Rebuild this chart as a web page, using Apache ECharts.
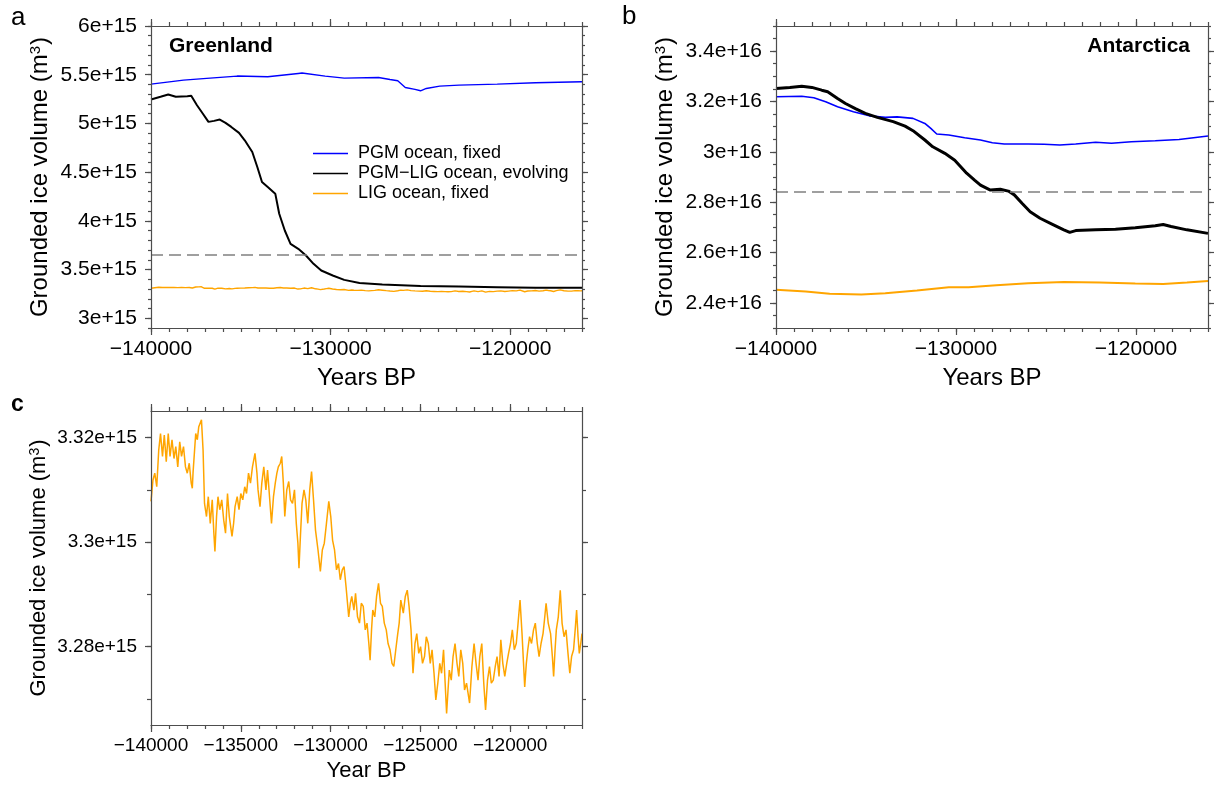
<!DOCTYPE html>
<html>
<head>
<meta charset="utf-8">
<script src="https://cdn.jsdelivr.net/npm/echarts@6/dist/echarts.min.js"></script>
<style>
html,body{margin:0;padding:0;background:#fff;}
#chart{width:1221px;height:790px;}
</style>
</head>
<body>
<div id="chart"></div>
<script>
// ---------------- DATA ----------------
const SERIES_NAMES = ['PGM ocean, fixed', 'PGM\u2212LIG ocean, evolving', 'LIG ocean, fixed'];

// Panel a (Greenland), values in units of 1e15 m^3
const aPGMYears = [-140000,-138190,-136900,-135200,-133500,-131800,-131590,-130300,-129240,-127330,-126690,-126260,-125840,-125300,-124990,-124670,-123920,-122850,-120720,-118590,-116000];
const aPGMVol   = [5.403,5.444,5.462,5.486,5.479,5.513,5.517,5.486,5.465,5.472,5.451,5.438,5.369,5.349,5.335,5.359,5.383,5.393,5.403,5.417,5.427];
const aEvoYears = [-140000,-139470,-139040,-138620,-137980,-137760,-137440,-137120,-136800,-136490,-136170,-135850,-135530,-135100,-134780,-134360,-134080,-133820,-133500,-133080,-132860,-132550,-132230,-131800,-131370,-130950,-130520,-129880,-129240,-128390,-127120,-124990,-122850,-120720,-118590,-116000];
const aEvoVol   = [5.246,5.273,5.297,5.273,5.280,5.283,5.187,5.102,5.016,5.026,5.040,5.006,4.964,4.903,4.827,4.707,4.553,4.399,4.347,4.279,4.073,3.901,3.764,3.713,3.644,3.559,3.490,3.439,3.394,3.363,3.346,3.332,3.325,3.319,3.312,3.312];
const aThreshold = 3.65;

// Panel b (Antarctica), values in units of 1e16 m^3
const bPGMYears = [-140000,-138570,-137900,-137240,-136580,-135700,-134820,-133930,-133270,-132390,-131730,-131400,-131070,-130400,-129520,-128640,-127980,-127320,-125990,-125110,-124230,-123350,-122240,-121360,-120260,-118930,-117610,-116000];
const bPGMVol   = [3.219,3.221,3.215,3.199,3.179,3.159,3.143,3.137,3.139,3.133,3.113,3.093,3.071,3.067,3.056,3.047,3.036,3.031,3.031,3.030,3.027,3.031,3.038,3.034,3.040,3.044,3.049,3.063];
const bEvoYears = [-140000,-139230,-138570,-138010,-137460,-137130,-136580,-136140,-135590,-135040,-134370,-133490,-132830,-132390,-131730,-131290,-130620,-130070,-129740,-129410,-128970,-128640,-128090,-127540,-127090,-126760,-126320,-125880,-125330,-124670,-124010,-123680,-123350,-122240,-121140,-120040,-118930,-118490,-118050,-117170,-116000];
const bEvoVol   = [3.252,3.256,3.261,3.256,3.245,3.239,3.212,3.192,3.172,3.153,3.137,3.120,3.102,3.084,3.047,3.020,2.994,2.967,2.941,2.915,2.888,2.868,2.848,2.851,2.844,2.829,2.795,2.762,2.736,2.713,2.690,2.680,2.687,2.690,2.692,2.698,2.706,2.711,2.703,2.690,2.676];
const bLIGYears = [-140000,-138350,-137020,-135260,-133930,-132170,-130400,-129300,-127760,-125990,-124010,-122020,-120040,-118490,-117170,-116000];
const bLIGVol   = [2.452,2.445,2.436,2.433,2.438,2.449,2.462,2.462,2.470,2.478,2.483,2.481,2.477,2.475,2.481,2.487];
const bThreshold = 2.84;

// Panel c (and panel a orange): LIG ocean, fixed, Greenland, units of 1e15 m^3
const cYears = [-140000,-139890,-139790,-139680,-139570,-139470,-139360,-139260,-139150,-139040,-138940,-138830,-138720,-138620,-138510,-138400,-138300,-138190,-138080,-137980,-137870,-137760,-137700,-137660,-137510,-137420,-137340,-137190,-137100,-137020,-136910,-136810,-136700,-136590,-136500,-136440,-136350,-136270,-136170,-136060,-135950,-135850,-135740,-135640,-135490,-135400,-135320,-135200,-135100,-135000,-134890,-134780,-134680,-134570,-134460,-134350,-134210,-134100,-134040,-133930,-133830,-133720,-133600,-133510,-133400,-133290,-133180,-133080,-132990,-132910,-132800,-132720,-132630,-132550,-132440,-132330,-132230,-132120,-132010,-131910,-131820,-131760,-131680,-131590,-131480,-131380,-131270,-131160,-131060,-130950,-130840,-130700,-130570,-130460,-130350,-130230,-130100,-129990,-129890,-129780,-129670,-129560,-129460,-129350,-129250,-129140,-128990,-128900,-128820,-128700,-128610,-128500,-128390,-128290,-128180,-128070,-127970,-127870,-127800,-127720,-127650,-127540,-127440,-127330,-127220,-127120,-127010,-126900,-126800,-126690,-126580,-126480,-126370,-126260,-126180,-126090,-125950,-125840,-125730,-125630,-125520,-125410,-125300,-125200,-125090,-124990,-124880,-124770,-124670,-124560,-124450,-124350,-124240,-124140,-124030,-123920,-123820,-123710,-123620,-123540,-123460,-123390,-123280,-123180,-123070,-122960,-122860,-122750,-122640,-122540,-122430,-122260,-122130,-122010,-121900,-121790,-121690,-121580,-121470,-121370,-121260,-121150,-121050,-120940,-120830,-120730,-120620,-120520,-120410,-120300,-120190,-120090,-119980,-119880,-119770,-119660,-119560,-119450,-119340,-119190,-119100,-119020,-118920,-118810,-118700,-118600,-118490,-118390,-118280,-118170,-118090,-118000,-117880,-117750,-117650,-117580,-117500,-117430,-117320,-117210,-117150,-117110,-117000,-116890,-116780,-116680,-116580,-116470,-116380,-116300,-116220,-116150,-116070,-116000];
const cVol = [3.3078,3.3119,3.3132,3.3106,3.3176,3.3208,3.3164,3.3205,3.3154,3.3208,3.3164,3.3196,3.3160,3.3183,3.3144,3.3192,3.3164,3.3183,3.3144,3.3132,3.3151,3.3113,3.3103,3.3132,3.3208,3.3196,3.3221,3.3234,3.3176,3.3074,3.3049,3.3087,3.3036,3.3081,3.3017,3.2982,3.3049,3.3087,3.3062,3.3081,3.3042,3.3017,3.3093,3.3049,3.3011,3.3036,3.3068,3.3087,3.3062,3.3093,3.3081,3.3106,3.3093,3.3132,3.3113,3.3144,3.3170,3.3132,3.3100,3.3068,3.3113,3.3144,3.3100,3.3138,3.3087,3.3036,3.3087,3.3113,3.3132,3.3144,3.3151,3.3164,3.3113,3.3049,3.3100,3.3116,3.3081,3.3074,3.3100,3.3036,3.2998,3.2950,3.3011,3.3074,3.3100,3.3081,3.3036,3.3100,3.3135,3.3081,3.3023,3.2985,3.2944,3.2985,3.2998,3.3036,3.3078,3.3049,3.3004,3.2985,3.2947,3.2959,3.2928,3.2947,3.2953,3.2915,3.2857,3.2883,3.2896,3.2870,3.2902,3.2857,3.2845,3.2883,3.2877,3.2832,3.2845,3.2806,3.2774,3.2832,3.2870,3.2857,3.2896,3.2921,3.2883,3.2877,3.2845,3.2832,3.2806,3.2794,3.2768,3.2762,3.2794,3.2825,3.2845,3.2889,3.2864,3.2896,3.2908,3.2877,3.2832,3.2749,3.2806,3.2825,3.2787,3.2800,3.2768,3.2781,3.2819,3.2806,3.2768,3.2794,3.2749,3.2698,3.2730,3.2768,3.2749,3.2794,3.2730,3.2672,3.2717,3.2755,3.2736,3.2781,3.2806,3.2768,3.2743,3.2794,3.2768,3.2717,3.2730,3.2692,3.2762,3.2806,3.2768,3.2736,3.2781,3.2806,3.2730,3.2679,3.2736,3.2762,3.2730,3.2736,3.2762,3.2781,3.2743,3.2813,3.2768,3.2743,3.2768,3.2787,3.2806,3.2832,3.2794,3.2806,3.2845,3.2889,3.2825,3.2723,3.2768,3.2794,3.2819,3.2806,3.2832,3.2845,3.2806,3.2781,3.2806,3.2825,3.2851,3.2883,3.2845,3.2825,3.2781,3.2743,3.2794,3.2832,3.2857,3.2908,3.2870,3.2845,3.2819,3.2832,3.2787,3.2749,3.2781,3.2794,3.2832,3.2870,3.2819,3.2787,3.2806,3.2825];

// Axis ticks
const X_MIN = -140000, X_MAX = -116000;
const abXMajor = [-140000, -130000, -120000];
const cXMajor = [-140000, -135000, -130000, -125000, -120000];
const aYMajor = [3, 3.5, 4, 4.5, 5, 5.5, 6];
const bYMajor = [2.4, 2.6, 2.8, 3.0, 3.2, 3.4];
const cYMajor = [3.28, 3.30, 3.32];

// ---------------- STYLE / HELPERS ----------------
const FONT = "'Liberation Sans', Arial, Helvetica, sans-serif";
const AXIS_COLOR = '#4d4d4d';
function steps(a, b, step, dec) { const out = []; const n = Math.round((b - a) / step); for (let i = 0; i <= n; i++) out.push(+(a + i * step).toFixed(dec)); return out; }
const xMinor = steps(X_MIN, X_MAX, 1000, 0);
const aYMinor = steps(2.9, 6.0, 0.1, 2);
const bYMinor = steps(2.3, 3.5, 0.05, 3);
const cYMinor = steps(3.27, 3.32, 0.01, 3);

const minus = v => String(v).replace('-', '\u2212');
const expFmt = p => v => String(+(+v).toFixed(3)) + 'e+' + p;

function axisSet(kind, gridIndex, o) {
  const sides = kind === 'x' ? ['bottom', 'top'] : ['left', 'right'];
  const list = [];
  sides.forEach((pos, si) => {
    [true, false].forEach(isMajor => {
      const main = isMajor && si === 0;
      const ax = {
        type: 'value', gridIndex, position: pos, min: o.min, max: o.max,
        axisLine: { show: isMajor, onZero: false, lineStyle: { color: AXIS_COLOR, width: 1.2 } },
        axisTick: { show: true, inside: false, customValues: isMajor ? o.majors : o.minors,
                    length: isMajor ? o.majorLen : o.minorLen, lineStyle: { color: AXIS_COLOR, width: 1.2 } },
        axisLabel: { show: main, customValues: o.majors, formatter: o.fmt, fontSize: o.labelSize,
                     color: '#000', fontFamily: FONT, margin: o.labelMargin },
        splitLine: { show: false }, minorTick: { show: false }, z: 5
      };
      if (main) {
        ax.name = o.name; ax.nameLocation = 'middle'; ax.nameGap = o.nameGap;
        ax.nameTextStyle = { fontSize: o.nameSize, color: '#000', fontFamily: FONT, lineHeight: o.nameSize,
          rich: { sup: { fontSize: Math.round(o.nameSize * 0.62), fontFamily: FONT, color: '#000', verticalAlign: 'top', lineHeight: o.nameSize, padding: [0, 1, 10, 0] } } };
      }
      list.push(ax);
    });
  });
  return list;
}

const yTitle = 'Grounded ice volume (m{sup|3})';
const grids = [
  { left: 151, top: 26, width: 431, height: 302 },
  { left: 776, top: 26, width: 432, height: 302 },
  { left: 151, top: 411, width: 431, height: 314 }
];

const xAxes = [].concat(
  axisSet('x', 0, { min: X_MIN, max: X_MAX, majors: abXMajor, minors: xMinor, majorLen: 7, minorLen: 4, fmt: minus, labelSize: 21, labelMargin: 11, name: 'Years BP', nameGap: 38, nameSize: 24 }),
  axisSet('x', 1, { min: X_MIN, max: X_MAX, majors: abXMajor, minors: xMinor, majorLen: 7, minorLen: 4, fmt: minus, labelSize: 21, labelMargin: 11, name: 'Years BP', nameGap: 38, nameSize: 24 }),
  axisSet('x', 2, { min: X_MIN, max: X_MAX, majors: cXMajor, minors: xMinor, majorLen: 7, minorLen: 4, fmt: minus, labelSize: 19, labelMargin: 11, name: 'Year BP', nameGap: 35, nameSize: 22 })
);
const yAxes = [].concat(
  axisSet('y', 0, { min: 2.9, max: 6.0, majors: aYMajor, minors: aYMinor, majorLen: 6, minorLen: 3, fmt: expFmt(15), labelSize: 21, labelMargin: 14, name: yTitle, nameGap: 99, nameSize: 24 }),
  axisSet('y', 1, { min: 2.3, max: 3.5, majors: bYMajor, minors: bYMinor, majorLen: 6, minorLen: 3, fmt: expFmt(16), labelSize: 21, labelMargin: 14, name: yTitle, nameGap: 99, nameSize: 24 }),
  axisSet('y', 2, { min: 3.265, max: 3.3251, majors: cYMajor, minors: cYMinor, majorLen: 6, minorLen: 4, fmt: expFmt(15), labelSize: 19, labelMargin: 14, name: yTitle, nameGap: 101, nameSize: 22 })
);

function lineSeries(name, gi, years, vals, color, width, z, extra) {
  return Object.assign({
    name, type: 'line', xAxisIndex: gi * 4, yAxisIndex: gi * 4,
    data: years.map((y, i) => [y, vals[i]]),
    showSymbol: false, symbol: 'none', clip: true, silent: true,
    lineStyle: { color, width }, itemStyle: { color }, z
  }, extra || {});
}
function threshold(v) {
  return { markLine: { symbol: ['none', 'none'], silent: true, animation: false, label: { show: false },
    lineStyle: { color: '#808080', type: [12, 6], width: 1.6 }, data: [{ yAxis: v }] } };
}

const BLUE = '#0000ff', BLACK = '#000000', ORANGE = '#ffa500';
const series = [
  lineSeries(SERIES_NAMES[0], 0, aPGMYears, aPGMVol, BLUE, 1.4, 3, threshold(aThreshold)),
  lineSeries(SERIES_NAMES[1], 0, aEvoYears, aEvoVol, BLACK, 2, 4),
  lineSeries(SERIES_NAMES[2], 0, cYears, cVol, ORANGE, 1.4, 3),
  lineSeries(SERIES_NAMES[0], 1, bPGMYears, bPGMVol, BLUE, 1.6, 3, threshold(bThreshold)),
  lineSeries(SERIES_NAMES[1], 1, bEvoYears, bEvoVol, BLACK, 3, 4),
  lineSeries(SERIES_NAMES[2], 1, bLIGYears, bLIGVol, ORANGE, 2, 3),
  lineSeries(SERIES_NAMES[2], 2, cYears, cVol, ORANGE, 1.5, 3)
];

const chart = echarts.init(document.getElementById('chart'), null, { renderer: 'canvas' });
chart.setOption({
  animation: false,
  backgroundColor: '#ffffff',
  grid: grids,
  xAxis: xAxes,
  yAxis: yAxes,
  legend: {
    orient: 'vertical', left: 313, top: 144, padding: 0, icon: 'rect', itemWidth: 35, itemHeight: 1.5, itemGap: 1,
    selectedMode: false, data: SERIES_NAMES,
    textStyle: { fontSize: 18, fontFamily: FONT, color: '#000', lineHeight: 19, padding: [0, 0, 0, 5] }
  },
  graphic: [
    { type: 'text', left: 11, top: 5, style: { text: 'a', font: "26px 'Liberation Sans', Arial, sans-serif", fill: '#000' } },
    { type: 'text', left: 622, top: 4, style: { text: 'b', font: "26px 'Liberation Sans', Arial, sans-serif", fill: '#000' } },
    { type: 'text', left: 11, top: 393, style: { text: 'c', font: "bold 23px 'Liberation Sans', Arial, sans-serif", fill: '#000' } },
    { type: 'text', left: 169, top: 36, style: { text: 'Greenland', font: "bold 21px 'Liberation Sans', Arial, sans-serif", fill: '#000' } },
    { type: 'text', right: 31, top: 36, style: { text: 'Antarctica', font: "bold 21px 'Liberation Sans', Arial, sans-serif", fill: '#000' } }
  ],
  series
});
</script>
</body>
</html>
